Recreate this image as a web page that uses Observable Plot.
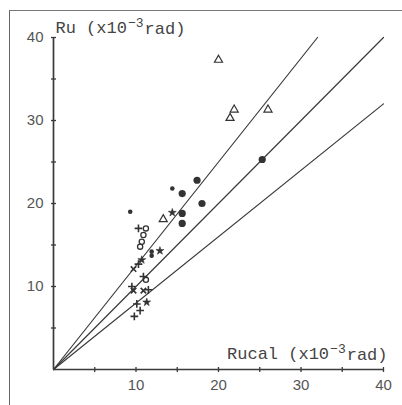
<!DOCTYPE html>
<html>
<head>
<meta charset="utf-8">
<script src="https://cdn.jsdelivr.net/npm/d3@7"></script>
<script src="https://cdn.jsdelivr.net/npm/@observablehq/plot@0.6"></script>
<style>
  html, body { margin: 0; padding: 0; background: #fff; }
  #wrap { position: relative; width: 402px; height: 405px; overflow: hidden; }
  #frame { position: absolute; left: 9px; top: 10px; width: 420px; height: 420px;
           border-left: 1.5px solid #666; border-top: 1.5px solid #777; box-sizing: border-box; pointer-events: none; }
</style>
</head>
<body>
<div id="wrap"><div id="frame"></div></div>
<script>
// Data (units: x10^-3 rad)
const filledLarge = [[17.4,22.8],[15.6,21.2],[15.6,18.8],[15.6,17.6],[18.0,20.0],[25.3,25.3]];
const filledSmall = [[9.3,19.0],[14.4,21.8],[11.9,14.2],[11.9,13.7]];
const openTriangles = [[20.0,37.3],[21.4,30.3],[21.9,31.3],[26.0,31.3],[13.3,18.1]];
const openCircles = [[11.2,17.0],[10.9,16.2],[10.7,15.4],[10.5,14.8],[11.2,10.8]];
const plusSigns = [[10.3,17.0],[10.3,12.7],[10.9,11.2],[9.5,10.0],[11.5,9.6],[10.1,7.9],[10.5,7.1],[9.8,6.4]];
const crosses = [[9.7,12.1],[9.7,9.5],[10.9,9.5]];
const stars = [[10.7,13.2],[12.9,14.3],[14.4,18.9],[11.3,8.1]];

// Reference lines through the origin: Ru = slope * Rucal
const lineSlopes = [1.25, 1, 0.8];
const axisMax = 40;
const tickValues = [5,10,15,20,25,30,35,40];
const labelTicks = [10,20,30,40];
const yTitle = "Ru (x10⁻³rad)";
const xTitle = "Rucal (x10⁻³rad)";

const ink = "#3a3a3a";
const lines = lineSlopes.map(s => [[0,0],[Math.min(axisMax, axisMax/s), Math.min(axisMax, axisMax/s)*s]]);

// short tick symbols that cross the axis lines
const vTick = {draw(ctx, size) { const r = Math.sqrt(size / Math.PI); ctx.moveTo(0, -r); ctx.lineTo(0, r); }};
const hTick = {draw(ctx, size) { const r = Math.sqrt(size / Math.PI); ctx.moveTo(-r, 0); ctx.lineTo(r, 0); }};

const plot = Plot.plot({
  width: 402, height: 405,
  marginLeft: 53, marginRight: 19, marginTop: 37, marginBottom: 36,
  x: {domain: [0, axisMax]},
  y: {domain: [0, axisMax]},
  style: {background: "transparent"},
  marks: [
    // labels
    Plot.axisX({ticks: labelTicks, tickSize: 0, tickPadding: 10, label: null,
      fontSize: 15, fontFamily: "Liberation Sans, Arial, sans-serif", fill: "#555"}),
    Plot.axisY({ticks: labelTicks, tickSize: 0, tickPadding: 10, label: null,
      fontSize: 15, fontFamily: "Liberation Sans, Arial, sans-serif", fill: "#555"}),
    // axis lines
    Plot.ruleY([0], {x1: 0, x2: axisMax, stroke: ink, strokeWidth: 1.7}),
    Plot.ruleX([0], {y1: 0, y2: axisMax, stroke: ink, strokeWidth: 1.7}),
    // tick marks crossing the axes
    Plot.dot(tickValues, {x: d => d, y: 0, symbol: vTick, r: 2.5, stroke: ink, strokeWidth: 1.3}),
    Plot.dot(tickValues, {x: 0, y: d => d, symbol: hTick, r: 2.5, stroke: ink, strokeWidth: 1.3}),
    // reference lines
    ...lines.map(l => Plot.line(l, {x: d => d[0], y: d => d[1], stroke: ink, strokeWidth: 1.2})),
    // points
    Plot.dot(filledLarge, {x: d => d[0], y: d => d[1], r: 3.6, fill: "#333", stroke: "none"}),
    Plot.dot(filledSmall, {x: d => d[0], y: d => d[1], r: 2.3, fill: "#333", stroke: "none"}),
    Plot.dot(openTriangles, {x: d => d[0], y: d => d[1], symbol: "triangle", r: 3.0, fill: "none", stroke: "#333", strokeWidth: 1.2}),
    Plot.dot(openCircles, {x: d => d[0], y: d => d[1], r: 2.6, fill: "none", stroke: "#333", strokeWidth: 1.3}),
    Plot.dot(plusSigns, {x: d => d[0], y: d => d[1], symbol: "plus", r: 2.6, stroke: "#333", strokeWidth: 1.6}),
    Plot.dot(crosses, {x: d => d[0], y: d => d[1], symbol: "times", r: 2.6, stroke: "#333", strokeWidth: 1.6}),
    Plot.dot(stars, {x: d => d[0], y: d => d[1], symbol: "star", r: 2.5, fill: "#333", stroke: "#333", strokeWidth: 0.6}),
    // axis titles
    Plot.text([yTitle], {frameAnchor: "top-left", textAnchor: "start", lineAnchor: "bottom",
      dx: 2, dy: -5, fontSize: 17, fontFamily: "Liberation Mono, Courier New, monospace", fill: "#444"}),
    Plot.text([xTitle], {frameAnchor: "bottom-right", textAnchor: "end", lineAnchor: "bottom",
      dx: 4, dy: -11, fontSize: 17, fontFamily: "Liberation Mono, Courier New, monospace", fill: "#444"})
  ]
});

// Render superscripts as raised tspans
d3.select(plot).selectAll("text").each(function() {
  const t = d3.select(this);
  const s = t.text();
  if (s === yTitle || s === xTitle) {
    const i = s.indexOf("⁻³");
    const before = s.slice(0, i), after = s.slice(i + 2);
    t.text(null);
    t.append("tspan").text(before);
    t.append("tspan").attr("dy", "-0.4em").attr("dx", "1").attr("font-size", "13px").text("−3");
    t.append("tspan").attr("dy", "0.4em").attr("dx", "1").text(after);
  }
});

document.getElementById("wrap").prepend(plot);
</script>
</body>
</html>
